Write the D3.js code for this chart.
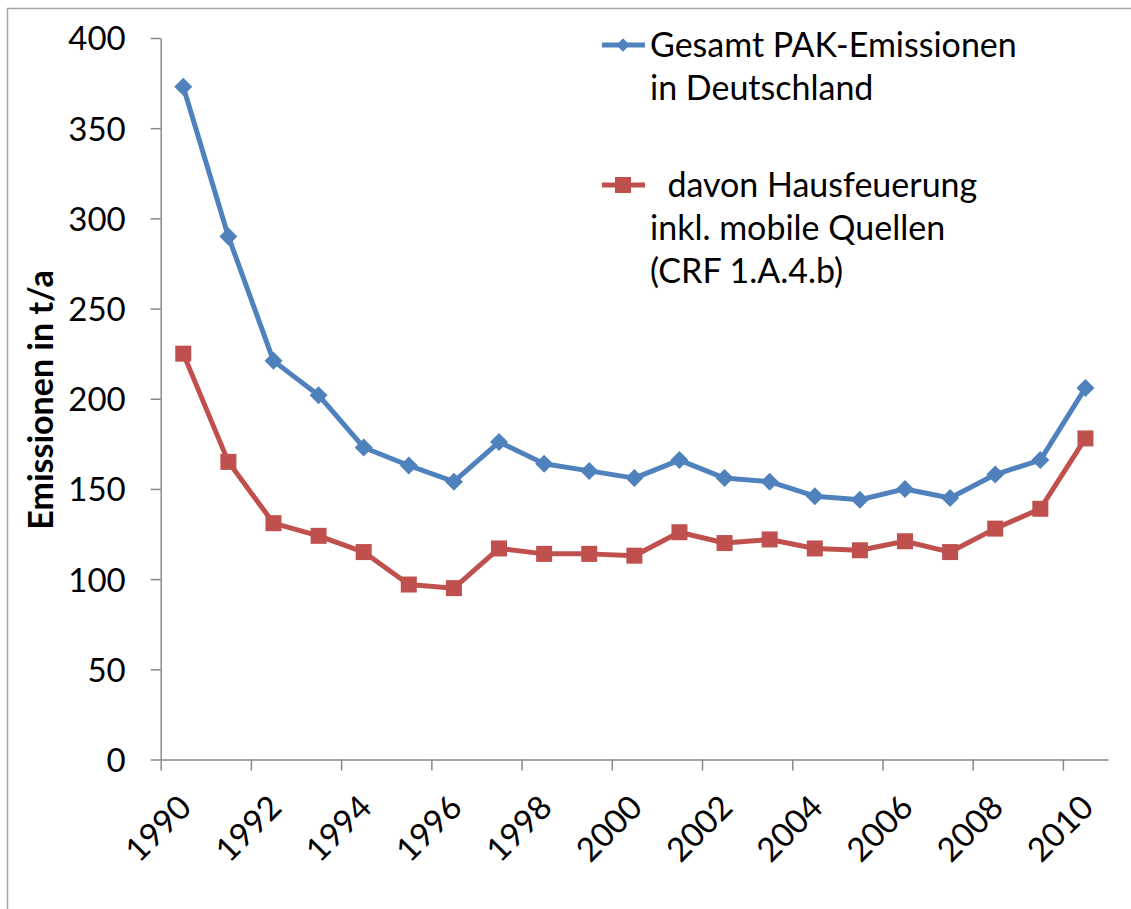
<!DOCTYPE html>
<html>
<head>
<meta charset="utf-8">
<script src="https://cdn.jsdelivr.net/npm/d3@7"></script>
<style>
  body { margin: 0; background: #fff; }
  svg { display: block; font-family: Lato, "Open Sans", sans-serif; }
</style>
</head>
<body>
<svg id="chart" width="1131" height="909"></svg>
<script>
// data
let years = [1990, 1991, 1992, 1993, 1994, 1995, 1996, 1997, 1998, 1999, 2000,
             2001, 2002, 2003, 2004, 2005, 2006, 2007, 2008, 2009, 2010];
let gesamt = [373, 290, 221, 202, 173, 163, 154, 176, 164, 160, 156,
              166, 156, 154, 146, 144, 150, 145, 158, 166, 206];
let hausfeuerung = [225, 165, 131, 124, 115, 97, 95, 117, 114, 114, 113,
                    126, 120, 122, 117, 116, 121, 115, 128, 139, 178];
let yTicks = [0, 50, 100, 150, 200, 250, 300, 350, 400];
let legendGesamt = ["Gesamt PAK-Emissionen", "in Deutschland"];
let legendHaus = ["\u00a0 davon Hausfeuerung", "inkl. mobile Quellen", "(CRF 1.A.4.b)"];
let yTitle = "Emissionen in t/a";

let blue = "#4f81bd";
let red = "#c0504d";
let axisColor = "#888";

let svg = d3.select("#chart");

// outer frame (runs off the right and bottom edge)
svg.append("rect")
    .attr("x", 7.5).attr("y", 8.5)
    .attr("width", 1140).attr("height", 920)
    .attr("fill", "none")
    .attr("stroke", "#a6a6a6")
    .attr("stroke-width", 1.5);

let plotLeft = 160.7, plotRight = 1108, plotTop = 38, plotBottom = 759.5;

let x = d3.scaleBand().domain(years).range([plotLeft, plotRight]);
let xb = d3.scaleLinear().domain([0, years.length]).range([plotLeft, plotRight]);
let y = d3.scaleLinear().domain([0, 400]).range([plotBottom, plotTop]);
let cx = d => x(d) + x.bandwidth() / 2;

// y axis
let yAxis = svg.append("g")
    .attr("transform", "translate(" + plotLeft + ",0)")
    .call(d3.axisLeft(y).tickValues(yTicks).tickSize(10).tickSizeOuter(0).tickPadding(25));
yAxis.select(".domain").attr("stroke", axisColor).attr("stroke-width", 1.5);
yAxis.selectAll(".tick line").attr("stroke", axisColor).attr("stroke-width", 1.5);
yAxis.selectAll(".tick text")
    .attr("font-size", 33)
    .attr("font-family", "Lato")
    .attr("fill", "#000")
    .attr("dy", "0.36em");

// x axis: ticks on category boundaries, every second one
let xAxis = svg.append("g")
    .attr("transform", "translate(0," + plotBottom + ")")
    .call(d3.axisBottom(xb)
        .tickValues(d3.range(0, years.length, 2))
        .tickSize(11).tickSizeOuter(0).tickFormat(""));
xAxis.select(".domain").attr("stroke", axisColor).attr("stroke-width", 1.5);
xAxis.selectAll(".tick line").attr("stroke", axisColor).attr("stroke-width", 1.5);

// x labels, rotated
svg.append("g")
    .selectAll("text")
    .data(years.filter((d, i) => i % 2 == 0))
    .join("text")
    .attr("transform", d => "translate(" + (cx(d) + 10) + "," + (plotBottom + 50) + ") rotate(-45)")
    .attr("text-anchor", "end")
    .attr("font-size", 33)
    .attr("fill", "#000")
    .text(d => d);

// y title
svg.append("text")
    .attr("transform", "translate(53,400) rotate(-90)")
    .attr("text-anchor", "middle")
    .attr("font-size", 34)
    .attr("font-weight", "bold")
    .attr("fill", "#000")
    .text(yTitle);

// series
let line = d3.line().x((d, i) => cx(years[i])).y(d => y(d));

svg.append("path")
    .attr("d", line(hausfeuerung))
    .attr("fill", "none").attr("stroke", red).attr("stroke-width", 5)
    .attr("stroke-linejoin", "round");

svg.append("g").selectAll("rect")
    .data(hausfeuerung)
    .join("rect")
    .attr("x", (d, i) => cx(years[i]) - 8)
    .attr("y", d => y(d) - 8)
    .attr("width", 16).attr("height", 16)
    .attr("fill", red);

svg.append("path")
    .attr("d", line(gesamt))
    .attr("fill", "none").attr("stroke", blue).attr("stroke-width", 5)
    .attr("stroke-linejoin", "round");

let diamond = d3.symbol().type(d3.symbolSquare).size(162);
svg.append("g").selectAll("path")
    .data(gesamt)
    .join("path")
    .attr("d", diamond)
    .attr("transform", (d, i) => "translate(" + cx(years[i]) + "," + y(d) + ") rotate(45)")
    .attr("fill", blue);

// legend
let lg = svg.append("g");
lg.append("line").attr("x1", 602).attr("x2", 645).attr("y1", 45).attr("y2", 45)
    .attr("stroke", blue).attr("stroke-width", 5);
lg.append("path").attr("d", d3.symbol().type(d3.symbolSquare).size(90))
    .attr("transform", "translate(623,45) rotate(45)").attr("fill", blue);
lg.append("line").attr("x1", 602).attr("x2", 645).attr("y1", 185).attr("y2", 185)
    .attr("stroke", red).attr("stroke-width", 5);
lg.append("rect").attr("x", 615).attr("y", 177).attr("width", 16).attr("height", 16)
    .attr("fill", red);

lg.append("g").selectAll("text")
    .data(legendGesamt)
    .join("text")
    .attr("x", 650).attr("y", (d, i) => 57 + i * 43)
    .attr("font-size", 34).attr("fill", "#000")
    .text(d => d);

lg.append("g").selectAll("text")
    .data(legendHaus)
    .join("text")
    .attr("x", 650).attr("y", (d, i) => 197 + i * 43)
    .attr("font-size", 34).attr("fill", "#000")
    .attr("xml:space", "preserve")
    .text(d => d);
</script>
</body>
</html>
